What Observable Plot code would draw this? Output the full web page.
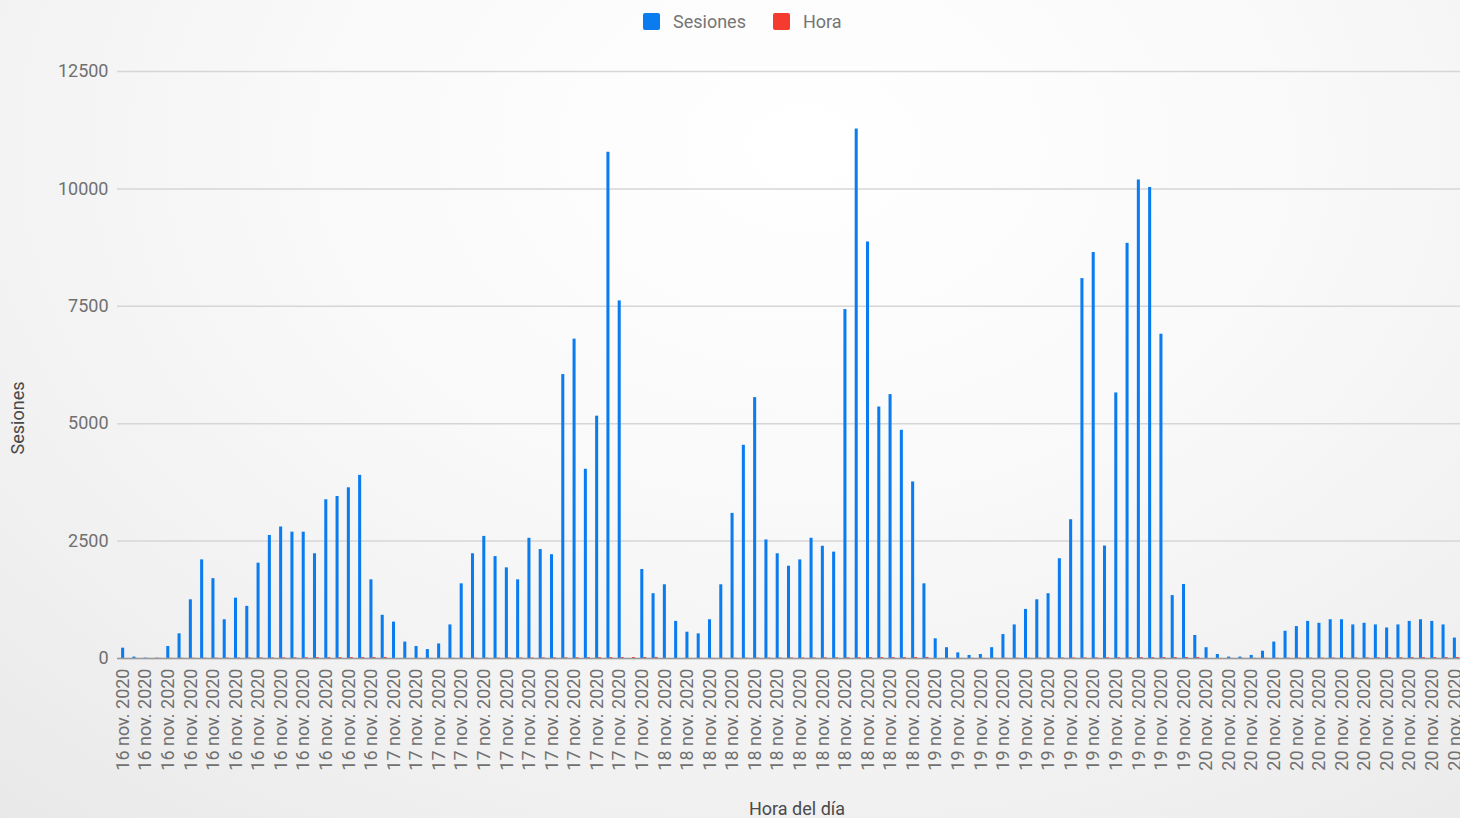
<!DOCTYPE html>
<html>
<head>
<meta charset="utf-8">
<script src="https://cdn.jsdelivr.net/npm/d3@7"></script>
<script src="https://cdn.jsdelivr.net/npm/@observablehq/plot@0.6"></script>
<style>
html, body { margin: 0; padding: 0; width: 1460px; height: 818px; overflow: hidden; font-family: Roboto, "Noto Sans", sans-serif; }
body { background: radial-gradient(ellipse 85% 110% at 55% 18%, #ffffff 0%, #f9f9f9 40%, #f0f0f0 75%, #e8e8e8 100%); }
#legend { height: 42px; position: relative; }
.item { position: absolute; top: 0; height: 42px; display: flex; align-items: center; font-size: 18px; color: #757575; }
.sw { width: 17px; height: 17px; border-radius: 2px; margin-right: 13px; }
#chart svg { display: block; }
</style>
</head>
<body>
<div id="legend"></div>
<div id="chart"></div>
<script>
// ---- data ----
const dias = ["16 nov. 2020", "17 nov. 2020", "18 nov. 2020", "19 nov. 2020", "20 nov. 2020"];
const horasDelDia = [0, 1, 2, 3, 4, 5, 6, 7, 8, 9, 10, 11, 12, 13, 14, 15, 16, 17, 18, 19, 20, 21, 22, 23];
const sesiones16 = [220, 30, 8, 6, 255, 525, 1250, 2100, 1700, 825, 1285, 1110, 2030, 2620, 2800, 2690, 2690, 2230, 3380, 3450, 3635, 3900, 1675, 920];
const sesiones17 = [775, 350, 255, 190, 310, 715, 1590, 2230, 2600, 2170, 1930, 1675, 2560, 2320, 2210, 6046, 6800, 4030, 5160, 10780, 7615, 0, 1895, 1380];
const sesiones18 = [1570, 790, 560, 525, 825, 1570, 3090, 4540, 5555, 2525, 2230, 1965, 2100, 2560, 2390, 2265, 7430, 11275, 8870, 5355, 5620, 4860, 3760, 1590];
const sesiones19 = [420, 230, 120, 65, 85, 230, 510, 715, 1045, 1250, 1380, 2125, 2955, 8090, 8645, 2395, 5655, 8840, 10190, 10030, 6905, 1340, 1575, 490];
const sesiones20 = [230, 85, 30, 30, 65, 155, 350, 580, 680, 790, 750, 825, 825, 715, 750, 715, 650, 715, 790, 825, 790, 715, 435];
const yTicks = [0, 2500, 5000, 7500, 10000, 12500];
const series = ["Sesiones", "Hora"];
const colors = ["#0b7cf0", "#f43b2e"];

// ---- table ----
const porDia = [sesiones16, sesiones17, sesiones18, sesiones19, sesiones20];
const rows = [];
porDia.forEach((vals, d) => {
  vals.forEach((v, k) => {
    rows.push({key: dias[d] + "|" + horasDelDia[k], dia: dias[d], hora: horasDelDia[k], sesiones: v});
  });
});
const keys = rows.map(r => r.key);
const tickKeys = rows.filter(r => r.hora % 2 === 0).map(r => r.key);
const keyToDia = new Map(rows.map(r => [r.key, r.dia]));

// ---- legend ----
const legend = document.getElementById("legend");
const legendLeft = [643, 773];
series.forEach((s, i) => {
  const it = document.createElement("div");
  it.className = "item";
  it.style.left = legendLeft[i] + "px";
  const sw = document.createElement("div");
  sw.className = "sw";
  sw.style.background = colors[i];
  const tx = document.createElement("span");
  tx.textContent = s;
  it.appendChild(sw); it.appendChild(tx);
  legend.appendChild(it);
});

// ---- chart ----
const chart = Plot.plot({
  width: 1460,
  height: 776,
  marginLeft: 117,
  marginRight: 0,
  marginTop: 29,
  marginBottom: 160,
  style: {fontFamily: "Roboto, 'Noto Sans', sans-serif", background: "transparent"},
  x: {type: "band", domain: keys, paddingInner: 0.5, paddingOuter: 0.25},
  y: {domain: [0, 12500]},
  marks: [
    Plot.gridY(yTicks, {stroke: "#d6d6d6", strokeOpacity: 1, strokeWidth: 1.5}),
    Plot.axisY(yTicks, {tickSize: 0, tickPadding: 9, fontSize: 18, color: "#707070", tickFormat: d => String(d), label: null}),
    Plot.axisX(tickKeys, {tickSize: 0, tickPadding: 10, tickRotate: -90, fontSize: 18, color: "#707070", tickFormat: k => keyToDia.get(k), label: null}),
    Plot.barY(rows, {x: "key", y: "sesiones", fill: colors[0], insetLeft: 1.3, insetRight: 1.3}),
    Plot.barY(rows, {x: "key", y: "hora", fill: colors[1], insetLeft: 1.3, insetRight: 1.3, dx: 3}),
    Plot.ruleY([0], {stroke: "#9a9a9a", strokeWidth: 1.5}),
    Plot.text(["Hora del día"], {frameAnchor: "bottom", textAnchor: "middle", lineAnchor: "middle", dx: 8, dy: 151, fontSize: 18, fill: "#4a4a4a"}),
    Plot.text(["Sesiones"], {frameAnchor: "left", rotate: -90, textAnchor: "middle", lineAnchor: "middle", dx: -99, dy: 53, fontSize: 18, fill: "#4a4a4a"})
  ]
});
document.getElementById("chart").appendChild(chart);
</script>
</body>
</html>
